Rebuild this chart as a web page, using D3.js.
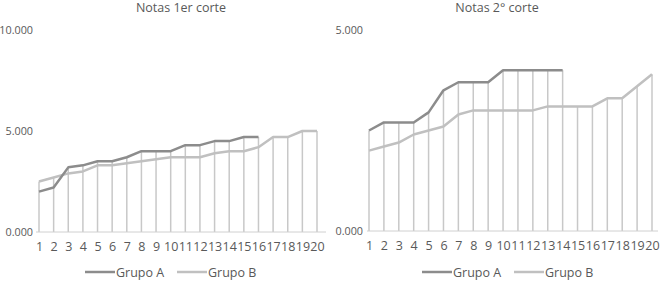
<!DOCTYPE html>
<html><head><meta charset="utf-8">
<script src="https://cdn.jsdelivr.net/npm/d3@7"></script>
<style>
body{margin:0;background:#fff;}
text{font-family:"Open Sans","Noto Sans",sans-serif;fill:#595959;}
</style></head>
<body><svg id="c" width="663" height="285"></svg>
<script>
const categories = d3.range(1, 21);
const titles = ["Notas 1er corte", "Notas 2° corte"];
const seriesNames = ["Grupo A", "Grupo B"];
const corte1A = [2.0, 2.2, 3.2, 3.3, 3.5, 3.5, 3.7, 4.0, 4.0, 4.0, 4.3, 4.3, 4.5, 4.5, 4.7, 4.7];
const corte1B = [2.5, 2.7, 2.9, 3.0, 3.3, 3.3, 3.4, 3.5, 3.6, 3.7, 3.7, 3.7, 3.9, 4.0, 4.0, 4.2, 4.7, 4.7, 5.0, 5.0];
const corte2A = [2.5, 2.7, 2.7, 2.7, 2.95, 3.5, 3.7, 3.7, 3.7, 4.0, 4.0, 4.0, 4.0, 4.0];
const corte2B = [2.0, 2.1, 2.2, 2.4, 2.5, 2.6, 2.9, 3.0, 3.0, 3.0, 3.0, 3.0, 3.1, 3.1, 3.1, 3.1, 3.3, 3.3, 3.6, 3.9];
const yTicks1 = [0, 5, 10];
const yTicks2 = [0, 5];

const colors = ["#8c8c8c", "#c0c0c0"];
const dropColor = "#c8c8c8";
const svg = d3.select("#c");

const panels = [
  {title: titles[0], A: corte1A, B: corte1B, ymax: 10, ticks: yTicks1, x0: 39, x1: 317, y0: 232, y1: 30, titleX: 181, axisL: 36, axisR: 326, legX: 85},
  {title: titles[1], A: corte2A, B: corte2B, ymax: 5, ticks: yTicks2, x0: 369, x1: 652, y0: 231, y1: 30, titleX: 497, axisL: 367, axisR: 658, legX: 422}
];

panels.forEach(p => {
  const g = svg.append("g");
  const x = d3.scalePoint().domain(categories).range([p.x0, p.x1]);
  const y = d3.scaleLinear().domain([0, p.ymax]).range([p.y0, p.y1]);

  g.append("text").attr("x", p.titleX).attr("y", 12).attr("text-anchor", "middle")
    .style("font-size", "12.5px").text(p.title);

  // y axis labels
  const ya = g.append("g").attr("transform", `translate(${p.x0 - 3},0)`)
    .call(d3.axisLeft(y).tickValues(p.ticks).tickSize(0).tickFormat(d3.format(".3f")));
  ya.select(".domain").remove();
  ya.selectAll("text").style("font-size", "10.8px").attr("fill", "#595959");

  // drop lines
  const n = Math.max(p.A.length, p.B.length);
  const maxVals = d3.range(n).map(i => d3.max([p.A[i], p.B[i]].filter(v => v !== undefined)));
  g.selectAll(".drop").data(maxVals).join("line")
    .attr("x1", (d, i) => x(categories[i])).attr("x2", (d, i) => x(categories[i]))
    .attr("y1", y(0)).attr("y2", d => y(d))
    .attr("stroke", dropColor).attr("stroke-width", 1.5);

  // x axis line
  g.append("line").attr("x1", p.axisL).attr("x2", p.axisR).attr("y1", y(0)).attr("y2", y(0))
    .attr("stroke", "#d0d0d0").attr("stroke-width", 1);

  const xa = g.append("g").attr("transform", `translate(0,${y(0)})`)
    .call(d3.axisBottom(x).tickSize(0).tickPadding(10));
  xa.select(".domain").remove();
  xa.selectAll("text").style("font-size", "12.5px").attr("fill", "#595959");

  const line = d3.line().x((d, i) => x(categories[i])).y(d => y(d));
  [p.B, p.A].forEach((s, k) => {
    g.append("path").datum(s).attr("d", line).attr("fill", "none")
      .attr("stroke", colors[1 - k]).attr("stroke-width", 2.5).attr("stroke-linejoin", "round");
  });

  // legend
  const ly = 272;
  seriesNames.forEach((nm, k) => {
    const lx = p.legX + k * 92;
    g.append("line").attr("x1", lx).attr("x2", lx + 30).attr("y1", ly).attr("y2", ly)
      .attr("stroke", colors[k]).attr("stroke-width", 2.5);
    g.append("text").attr("x", lx + 31).attr("y", ly + 4.5).style("font-size", "12.5px").text(nm);
  });
});
</script></body></html>
